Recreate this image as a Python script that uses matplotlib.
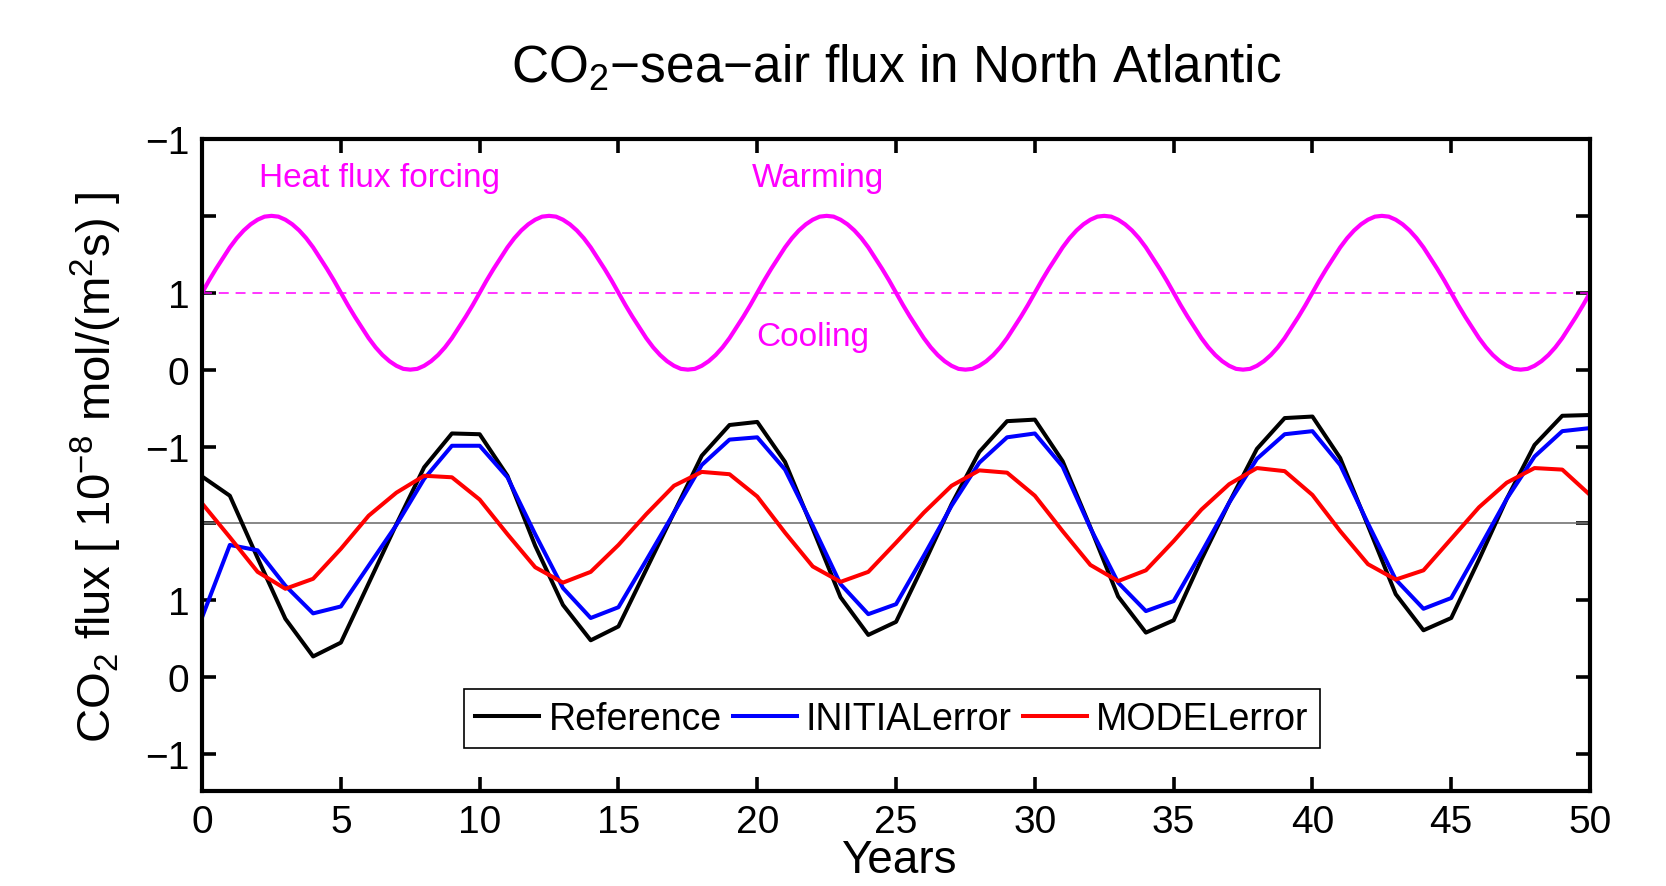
import matplotlib
matplotlib.use('Agg')
import matplotlib.pyplot as plt

plt.rcParams['font.family'] = ['Liberation Sans', 'DejaVu Sans']
plt.rcParams['mathtext.fontset'] = 'custom'
plt.rcParams['mathtext.rm'] = 'Liberation Sans'
plt.rcParams['mathtext.it'] = 'Liberation Sans:italic'
plt.rcParams['mathtext.default'] = 'regular'

# yearly CO2 flux anomalies (tick units, positive = up on the plot)
years = list(range(51))
reference = [0.61, 0.36, -0.45, -1.24, -1.73, -1.55, -0.78, -0.01, 0.73, 1.17,
             1.16, 0.62, -0.29, -1.06, -1.52, -1.34, -0.60, 0.14, 0.88, 1.28,
             1.32, 0.80, -0.07, -0.96, -1.45, -1.28, -0.53, 0.25, 0.93, 1.33,
             1.35, 0.81, -0.05, -0.95, -1.42, -1.26, -0.47, 0.27, 0.97, 1.37,
             1.39, 0.85, -0.03, -0.92, -1.39, -1.23, -0.47, 0.32, 1.02, 1.40,
             1.41]
initial_err = [-1.22, -0.28, -0.35, -0.81, -1.17, -1.08, -0.55, -0.02, 0.58, 1.01,
               1.01, 0.60, -0.14, -0.84, -1.23, -1.09, -0.48, 0.14, 0.76, 1.09,
               1.12, 0.70, -0.03, -0.79, -1.18, -1.05, -0.42, 0.23, 0.79, 1.12,
               1.17, 0.74, -0.06, -0.77, -1.14, -1.01, -0.38, 0.27, 0.84, 1.16,
               1.20, 0.76, 0.00, -0.73, -1.11, -0.97, -0.33, 0.32, 0.87, 1.20,
               1.24]
model_err = [0.26, -0.18, -0.63, -0.85, -0.72, -0.33, 0.10, 0.40, 0.62, 0.60,
             0.31, -0.14, -0.57, -0.77, -0.63, -0.28, 0.12, 0.49, 0.67, 0.64,
             0.35, -0.12, -0.56, -0.76, -0.63, -0.25, 0.14, 0.49, 0.69, 0.66,
             0.36, -0.10, -0.54, -0.75, -0.61, -0.23, 0.18, 0.51, 0.72, 0.68,
             0.37, -0.10, -0.53, -0.73, -0.61, -0.20, 0.21, 0.53, 0.72, 0.70,
             0.37]

# heat flux forcing read every quarter year, one row per half period
forcing_t = [i * 0.25 for i in range(201)]
forcing = [
    0, 0.16, 0.31, 0.45, 0.59, 0.71, 0.81, 0.89, 0.95, 0.99, 1.0, 0.99, 0.95, 0.89, 0.81, 0.71, 0.59, 0.45, 0.31, 0.16,
    0, -0.16, -0.31, -0.45, -0.59, -0.71, -0.81, -0.89, -0.95, -0.99, -1.0, -0.99, -0.95, -0.89, -0.81, -0.71, -0.59, -0.45, -0.31, -0.16,
    0, 0.16, 0.31, 0.45, 0.59, 0.71, 0.81, 0.89, 0.95, 0.99, 1.0, 0.99, 0.95, 0.89, 0.81, 0.71, 0.59, 0.45, 0.31, 0.16,
    0, -0.16, -0.31, -0.45, -0.59, -0.71, -0.81, -0.89, -0.95, -0.99, -1.0, -0.99, -0.95, -0.89, -0.81, -0.71, -0.59, -0.45, -0.31, -0.16,
    0, 0.16, 0.31, 0.45, 0.59, 0.71, 0.81, 0.89, 0.95, 0.99, 1.0, 0.99, 0.95, 0.89, 0.81, 0.71, 0.59, 0.45, 0.31, 0.16,
    0, -0.16, -0.31, -0.45, -0.59, -0.71, -0.81, -0.89, -0.95, -0.99, -1.0, -0.99, -0.95, -0.89, -0.81, -0.71, -0.59, -0.45, -0.31, -0.16,
    0, 0.16, 0.31, 0.45, 0.59, 0.71, 0.81, 0.89, 0.95, 0.99, 1.0, 0.99, 0.95, 0.89, 0.81, 0.71, 0.59, 0.45, 0.31, 0.16,
    0, -0.16, -0.31, -0.45, -0.59, -0.71, -0.81, -0.89, -0.95, -0.99, -1.0, -0.99, -0.95, -0.89, -0.81, -0.71, -0.59, -0.45, -0.31, -0.16,
    0, 0.16, 0.31, 0.45, 0.59, 0.71, 0.81, 0.89, 0.95, 0.99, 1.0, 0.99, 0.95, 0.89, 0.81, 0.71, 0.59, 0.45, 0.31, 0.16,
    0, -0.16, -0.31, -0.45, -0.59, -0.71, -0.81, -0.89, -0.95, -0.99, -1.0, -0.99, -0.95, -0.89, -0.81, -0.71, -0.59, -0.45, -0.31, -0.16,
    0]

ytick_labels = ['\u22121', '0', '1', '', '\u22121', '0', '1', '', '\u22121']
xticks = [0, 5, 10, 15, 20, 25, 30, 35, 40, 45, 50]

flux_base = 3
forcing_base = 6
magenta = (1, 0, 1)

fig = plt.figure(figsize=(16.66, 8.87), dpi=100)
ax = fig.add_axes([0.1213, 0.1071, 0.8331, 0.7351])

ax.plot(forcing_t, [forcing_base + f for f in forcing], color=magenta, lw=3.0)
ax.axhline(forcing_base, color=magenta, lw=1.1, ls=(0, (6.5, 4.5)))
ax.axhline(flux_base, color='0.45', lw=1.2)

ax.plot(years, [flux_base + v for v in reference], color='k', lw=2.9, label='Reference')
ax.plot(years, [flux_base + v for v in initial_err], color='b', lw=2.9, label='INITIALerror')
ax.plot(years, [flux_base + v for v in model_err], color='r', lw=2.9, label='MODELerror')

ax.text(6.4, 7.5, 'Heat flux forcing', color=magenta, fontsize=24, ha='center', va='center')
ax.text(22.2, 7.5, 'Warming', color=magenta, fontsize=24, ha='center', va='center')
ax.text(22.0, 5.43, 'Cooling', color=magenta, fontsize=24, ha='center', va='center')

ax.set_xlim(0, 50)
ax.set_ylim(-0.48, 8)
ax.set_xticks(xticks)
ax.set_yticks(range(9))
ax.set_yticklabels(ytick_labels)
ax.tick_params(direction='in', length=10, width=2.6, labelsize=28, pad=9,
               top=True, right=True)
for s in ax.spines.values():
    s.set_linewidth(3.0)

ax.set_xlabel('Years', fontsize=33, va='center')
ax.xaxis.set_label_coords(0.502, -0.106)
ax.set_ylabel('CO$_2$ flux [ 10$^{\u22128}$ mol/(m$^2$s) ]', fontsize=34, va='center')
ax.yaxis.set_label_coords(-0.0764, 0.498)
ax.set_title('CO$_2$\u2212sea\u2212air flux in North Atlantic', fontsize=37,
             y=1.109, va='center', pad=0)

leg = ax.legend(loc='lower center', bbox_to_anchor=(0.497, 0.066), ncol=3,
                fontsize=27, frameon=True, fancybox=False, framealpha=1,
                edgecolor='k', handlelength=1.7, handletextpad=0.25,
                columnspacing=0.3, borderpad=0.3, borderaxespad=0)
leg.get_frame().set_linewidth(1.2)

fig.savefig('out.png', dpi=100)
